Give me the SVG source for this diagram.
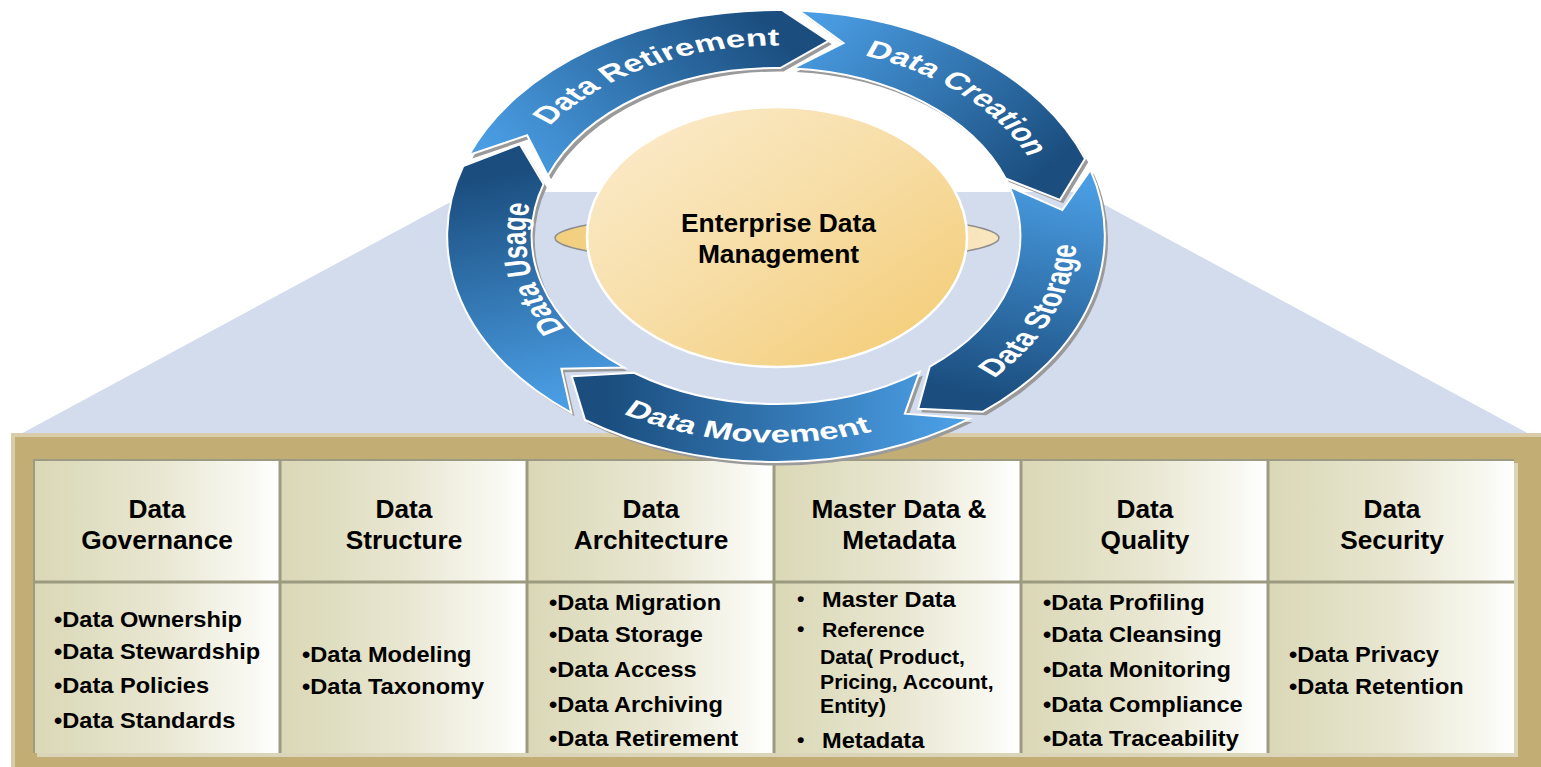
<svg xmlns="http://www.w3.org/2000/svg" width="1541" height="767" viewBox="0 0 1541 767">
<defs>
<style>
.h{font-family:'Liberation Sans',Arial,Helvetica,sans-serif;font-weight:bold;font-size:25px;fill:#000;text-anchor:middle}
.b{font-family:'Liberation Sans',Arial,Helvetica,sans-serif;font-weight:bold;font-size:22.7px;fill:#000}
.s{font-family:'Liberation Sans',Arial,Helvetica,sans-serif;font-weight:bold;font-size:20.4px;fill:#000}
.rt{font-family:'Liberation Sans',Arial,Helvetica,sans-serif;font-weight:bold;font-size:24px;fill:#fff}
.cell{fill:url(#cellG)}
.seg{stroke:#fff;stroke-width:2}
.shadow{fill:#9a9a9a}
</style>
<linearGradient id="cellG" x1="0" y1="0" x2="1" y2="0">
<stop offset="0" stop-color="#DAD8B6"/>
<stop offset="0.5" stop-color="#E8E6D0"/>
<stop offset="0.88" stop-color="#F8F8F1"/>
<stop offset="1" stop-color="#FFFFFF"/>
</linearGradient>
<linearGradient id="eggG" x1="0" y1="0" x2="1" y2="1">
<stop offset="0" stop-color="#FCEDD0"/>
<stop offset="0.5" stop-color="#F7DDA5"/>
<stop offset="1" stop-color="#F3CA70"/>
</linearGradient>
<linearGradient id="flatG" x1="0" y1="0" x2="1" y2="0">
<stop offset="0" stop-color="#F2CF7E"/>
<stop offset="1" stop-color="#F9E6C0"/>
</linearGradient>
<linearGradient id="gRet" gradientUnits="userSpaceOnUse" x1="-185.32" y1="-71.14" x2="3.47" y2="-198.47"><stop offset="0" stop-color="#4A9DE3"/><stop offset="1" stop-color="#1B4E7F"/></linearGradient>
<linearGradient id="gCre" gradientUnits="userSpaceOnUse" x1="13.85" y1="-198.02" x2="186.53" y2="-67.89"><stop offset="0" stop-color="#4A9DE3"/><stop offset="1" stop-color="#1B4E7F"/></linearGradient>
<linearGradient id="gSto" gradientUnits="userSpaceOnUse" x1="189.82" y1="-58.03" x2="124.91" y2="154.26"><stop offset="0" stop-color="#4A9DE3"/><stop offset="1" stop-color="#1B4E7F"/></linearGradient>
<linearGradient id="gMov" gradientUnits="userSpaceOnUse" x1="116.68" y1="160.59" x2="-115.27" y2="161.60"><stop offset="0" stop-color="#4A9DE3"/><stop offset="1" stop-color="#1B4E7F"/></linearGradient>
<linearGradient id="gUsa" gradientUnits="userSpaceOnUse" x1="-123.57" y1="155.35" x2="-188.79" y2="-61.34"><stop offset="0" stop-color="#4A9DE3"/><stop offset="1" stop-color="#1B4E7F"/></linearGradient>
<path id="pRet" vector-effect="non-scaling-stroke" d="M -210.99 -81.00 A 226 226 0 0 1 3.94 -225.97 L 36.17 -195.17 L 2.94 -167.97 A 168 168 0 0 0 -156.84 -60.21 L -171.03 -100.75 Z"/>
<path id="pCre" vector-effect="non-scaling-stroke" d="M 15.76 -225.45 A 226 226 0 0 1 212.37 -77.29 L 195.18 -36.17 L 157.87 -57.46 A 168 168 0 0 0 11.72 -167.59 L 46.34 -193.01 Z"/>
<path id="pSto" vector-effect="non-scaling-stroke" d="M 216.13 -66.08 A 226 226 0 0 1 142.22 175.63 L 97.74 172.77 L 105.72 130.57 A 168 168 0 0 0 160.66 -49.11 L 196.81 -25.91 Z"/>
<path id="pMov" vector-effect="non-scaling-stroke" d="M 132.84 182.83 A 226 226 0 0 1 -131.24 183.99 L -140.36 140.36 L -97.56 136.77 A 168 168 0 0 0 98.75 135.91 L 88.57 177.64 Z"/>
<path id="pUsa" vector-effect="non-scaling-stroke" d="M -140.69 176.87 A 226 226 0 0 1 -214.94 -69.83 L -176.07 -91.65 L -159.78 -51.91 A 168 168 0 0 0 -104.57 131.48 L -147.51 132.82 Z"/>
<path id="tRet" d="M -175.36 -74.43 A 190.5 190.5 0 0 1 42.85 -185.62"/>
<path id="tCre" d="M 6.65 -190.38 A 190.5 190.5 0 0 1 188.65 -26.51"/>
<path id="tUsa" d="M -108.24 133.67 A 172 172 0 0 1 -150.43 -83.39"/>
<path id="tSto" d="M 93.75 184.00 A 206.5 206.5 0 0 0 197.48 -60.37"/>
<path id="tMov" d="M -148.54 143.45 A 206.5 206.5 0 0 0 115.47 171.19"/>
</defs>

<rect width="1541" height="767" fill="#ffffff"/>

<!-- callout wedge -->
<polygon id="wedge" points="469,192 1081,192 1533,436 17,436" fill="#D3DCEC"/>

<!-- frame -->
<g id="frame">
<rect x="11" y="433" width="1540" height="340" fill="#D9CCAA"/>
<rect x="15" y="437" width="1540" height="340" fill="#C2AE75"/>
<rect x="37" y="463" width="1481" height="294" fill="#DAD5B8"/>
<rect x="33" y="459" width="1481" height="294" fill="#9C9A80"/>
</g>

<g id="col-governance">
<rect class="cell" x="35" y="461" width="243.5" height="119.5"/>
<rect class="cell" x="35" y="583.5" width="243.5" height="169.5"/>
<text class="h" transform="translate(157,0) scale(1.05,1)"><tspan x="0" y="518">Data</tspan><tspan x="0" y="549">Governance</tspan></text>
<text class="b" transform="translate(54,0) scale(1.04,1)"><tspan x="0" y="627">•Data Ownership</tspan><tspan x="0" y="659">•Data Stewardship</tspan><tspan x="0" y="693">•Data Policies</tspan><tspan x="0" y="728">•Data Standards</tspan></text>
</g>

<g id="col-structure">
<rect class="cell" x="281.5" y="461" width="244" height="119.5"/>
<rect class="cell" x="281.5" y="583.5" width="244" height="169.5"/>
<text class="h" transform="translate(404,0) scale(1.05,1)"><tspan x="0" y="518">Data</tspan><tspan x="0" y="549">Structure</tspan></text>
<text class="b" transform="translate(302,0) scale(1.04,1)"><tspan x="0" y="662">•Data Modeling</tspan><tspan x="0" y="694">•Data Taxonomy</tspan></text>
</g>

<g id="col-architecture">
<rect class="cell" x="528.5" y="461" width="244" height="119.5"/>
<rect class="cell" x="528.5" y="583.5" width="244" height="169.5"/>
<text class="h" transform="translate(651,0) scale(1.05,1)"><tspan x="0" y="518">Data</tspan><tspan x="0" y="549">Architecture</tspan></text>
<text class="b" transform="translate(549,0) scale(1.04,1)"><tspan x="0" y="610">•Data Migration</tspan><tspan x="0" y="642">•Data Storage</tspan><tspan x="0" y="677">•Data Access</tspan><tspan x="0" y="712">•Data Archiving</tspan><tspan x="0" y="746">•Data Retirement</tspan></text>
</g>

<g id="col-master">
<rect class="cell" x="775.5" y="461" width="244" height="119.5"/>
<rect class="cell" x="775.5" y="583.5" width="244" height="169.5"/>
<text class="h" transform="translate(899,0) scale(1.05,1)"><tspan x="0" y="518">Master Data &amp;</tspan><tspan x="0" y="549">Metadata</tspan></text>
<text class="s" transform="translate(797,0) scale(1.04,1)"><tspan x="0" y="606">•</tspan><tspan x="0" y="636">•</tspan><tspan x="0" y="747">•</tspan></text>
<text class="b" transform="translate(822,0) scale(1.04,1)"><tspan x="0" y="607">Master Data</tspan><tspan x="0" y="748">Metadata</tspan></text>
<text class="s" transform="translate(822,0) scale(1.04,1)"><tspan x="0" y="637">Reference</tspan></text>
<text class="s" transform="translate(820,0) scale(1.04,1)"><tspan x="0" y="664">Data( Product,</tspan><tspan x="0" y="689">Pricing, Account,</tspan><tspan x="0" y="713">Entity)</tspan></text>
</g>

<g id="col-quality">
<rect class="cell" x="1022.5" y="461" width="244" height="119.5"/>
<rect class="cell" x="1022.5" y="583.5" width="244" height="169.5"/>
<text class="h" transform="translate(1145,0) scale(1.05,1)"><tspan x="0" y="518">Data</tspan><tspan x="0" y="549">Quality</tspan></text>
<text class="b" transform="translate(1043,0) scale(1.04,1)"><tspan x="0" y="610">•Data Profiling</tspan><tspan x="0" y="642">•Data Cleansing</tspan><tspan x="0" y="677">•Data Monitoring</tspan><tspan x="0" y="712">•Data Compliance</tspan><tspan x="0" y="746">•Data Traceability</tspan></text>
</g>

<g id="col-security">
<rect class="cell" x="1269.5" y="461" width="244.5" height="119.5"/>
<rect class="cell" x="1269.5" y="583.5" width="244.5" height="169.5"/>
<text class="h" transform="translate(1392,0) scale(1.05,1)"><tspan x="0" y="518">Data</tspan><tspan x="0" y="549">Security</tspan></text>
<text class="b" transform="translate(1289,0) scale(1.04,1)"><tspan x="0" y="662">•Data Privacy</tspan><tspan x="0" y="694">•Data Retention</tspan></text>
</g>

<!-- center -->
<g id="center">
<ellipse cx="777" cy="238" rx="222" ry="25" fill="url(#flatG)" stroke="#8E8E8E" stroke-width="1.5"/>
<ellipse cx="777" cy="237" rx="190" ry="130" fill="url(#eggG)" stroke="#ffffff" stroke-width="2.5"/>
<text class="h" transform="translate(778.5,0) scale(1.056,1)"><tspan x="0" y="232">Enterprise Data</tspan><tspan x="0" y="263">Management</tspan></text>
</g>

<!-- lifecycle ring -->
<g id="connectors" transform="translate(776,236) scale(1.455,1)">
<g id="ring-shadows" class="shadow" transform="translate(2.2,3.5)">
<use href="#pRet"/><use href="#pCre"/><use href="#pSto"/><use href="#pMov"/><use href="#pUsa"/>
</g>
<g id="seg-retirement"><use href="#pRet" class="seg" fill="url(#gRet)"/><text class="rt"><textPath href="#tRet" startOffset="50%" text-anchor="middle">Data Retirement</textPath></text></g>
<g id="seg-creation"><use href="#pCre" class="seg" fill="url(#gCre)"/><text class="rt"><textPath href="#tCre" startOffset="50%" text-anchor="middle">Data Creation</textPath></text></g>
<g id="seg-storage"><use href="#pSto" class="seg" fill="url(#gSto)"/><text class="rt"><textPath href="#tSto" startOffset="50%" text-anchor="middle">Data Storage</textPath></text></g>
<g id="seg-movement"><use href="#pMov" class="seg" fill="url(#gMov)"/><text class="rt"><textPath href="#tMov" startOffset="50%" text-anchor="middle">Data Movement</textPath></text></g>
<g id="seg-usage"><use href="#pUsa" class="seg" fill="url(#gUsa)"/><text class="rt"><textPath href="#tUsa" startOffset="50%" text-anchor="middle">Data Usage</textPath></text></g>
</g>
</svg>
